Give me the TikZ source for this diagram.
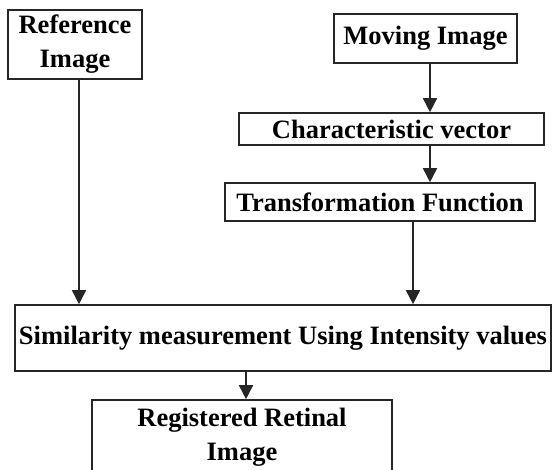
\documentclass[tikz,border=0pt]{standalone}
\usepackage{fontspec}
\setmainfont{Liberation Serif}
\usetikzlibrary{arrows.meta}
\begin{document}
\begin{tikzpicture}[x=1pt,y=-1pt,
  box/.style={draw=black!85, line width=1.6pt, inner sep=0pt, align=center,
    font=\fontsize{26.5}{32}\selectfont\bfseries},
  arr/.style={draw=black!85, line width=1.6pt, -{Triangle[width=14pt,length=14pt]}}]
\useasboundingbox (0,0) rectangle (552,470);
\clip (0,0) rectangle (552,470);
\node[box, minimum width=134, minimum height=69] (ref) at (75,44.5) {Reference\\[2pt]Image};
\node[box, minimum width=183, minimum height=49] (mov) at (425.5,38.5) {Moving Image};
\node[box, minimum width=305, minimum height=32] (char) at (391.5,129) {Characteristic vector};
\node[box, minimum width=310, minimum height=38] (trans) at (380,202) {Transformation Function};
\node[box, minimum width=536, minimum height=66] (sim) at (283,338) {\raisebox{4pt}{Similarity measurement Using Intensity values}};
\node[box, minimum width=300, minimum height=74] (reg) at (242,437) {Registered Retinal\\[2pt]Image};
\coordinate (a1) at (430,0);
\coordinate (a2) at (413,0);
\coordinate (a3) at (79,0);
\coordinate (a4) at (246,0);
\draw[arr] (mov.south -| a1) -- (char.north -| a1);
\draw[arr] (char.south -| a1) -- (trans.north -| a1);
\draw[arr] (trans.south -| a2) -- (sim.north -| a2);
\draw[arr] (ref.south -| a3) -- (sim.north -| a3);
\draw[arr] (sim.south -| a4) -- (reg.north -| a4);
\end{tikzpicture}
\end{document}
